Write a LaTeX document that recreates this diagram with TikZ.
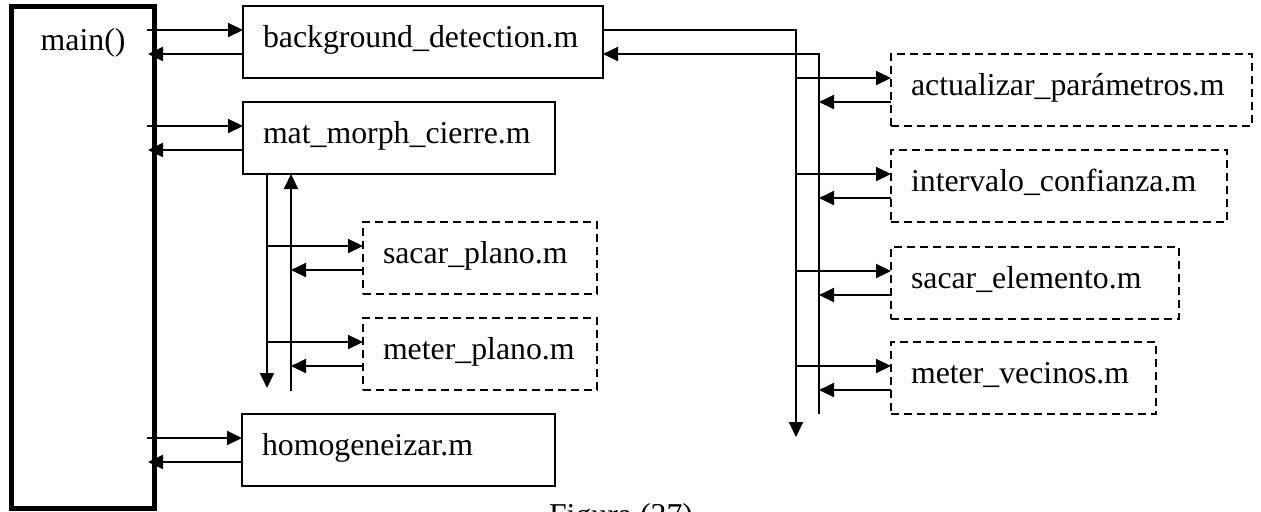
\documentclass[tikz,border=0pt]{standalone}
\usepackage{fontspec}
\setmainfont{Liberation Serif}
\usetikzlibrary{arrows.meta, calc}

\begin{document}
\begin{tikzpicture}[x=0.5pt, y=-0.5pt, line width=1pt,
        >={Triangle[length=7.5pt, width=7pt]},
        font=\fontsize{15.9pt}{19pt}\selectfont,
        modulo/.style={draw, rectangle, anchor=north west, minimum height=36pt,
            inner xsep=10pt, inner ysep=0pt, outer sep=0pt,
            text height=11pt, text depth=6pt, align=left},
        auxiliar/.style={modulo, dash pattern=on 4pt off 2.5pt}]
        \useasboundingbox (0,0) rectangle (1261,511);

        % Draw the blocks
        \node (main)    [draw, rectangle, anchor=north west, line width=2.5pt, outer sep=0pt,
                         minimum width=71.5pt, minimum height=251pt] at (11,6) {};
        \node (maintxt) [anchor=base west] at (33,50) {main()};
        \node (bg)      [modulo, text width=160pt]   at (243,6)   {background\_detection.m};
        \node (morph)   [modulo, text width=136pt]   at (243,102) {mat\_morph\_cierre.m};
        \node (homog)   [modulo, text width=136.5pt] at (242,414) {homogeneizar.m};
        \node (sacarp)  [auxiliar, text width=97pt]  at (363,222) {sacar\_plano.m};
        \node (meterp)  [auxiliar, text width=97pt]  at (363,318) {meter\_plano.m};
        \node (actual)  [auxiliar, text width=160.5pt] at (891,54)  {actualizar\_parámetros.m};
        \node (interv)  [auxiliar, text width=148pt] at (891,150) {intervalo\_confianza.m};
        \node (sacare)  [auxiliar, text width=124pt] at (891,247) {sacar\_elemento.m};
        \node (meterv)  [auxiliar, text width=112.5pt] at (891,342) {meter\_vecinos.m};
        \node (pie)     [anchor=base] at (621,525) {Figura (27)};

        % Ends of the call lines
        \coordinate (mainout) at ([xshift=-3.5pt]main.east);
        \coordinate (mainin)  at ([xshift=-3pt]main.east);
        \coordinate (bajada)  at (796,437);
        \coordinate (subida)  at (819,414);
        \coordinate (mbajada) at (267,388);
        \coordinate (msubida) at (291,391);

        % Calls from main()
        \draw [->] ($(bg.west -| mainout)+(0,-12)$) -- ($(bg.west)+(0,-12)$);
        \draw [->] ($(bg.west)+(0,12)$) -- ($(bg.west -| mainin)+(0,12)$);
        \draw [->] ($(morph.west -| mainout)+(0,-12)$) -- ($(morph.west)+(0,-12)$);
        \draw [->] ($(morph.west)+(0,12)$) -- ($(morph.west -| mainin)+(0,12)$);
        \draw [->] ($(homog.west -| mainout)+(0,-12)$) -- ($(homog.west)+(0,-12)$);
        \draw [->] ($(homog.west)+(0,12)$) -- ($(homog.west -| mainin)+(0,12)$);

        % Calls from mat_morph_cierre.m
        \draw [->] (morph.south -| mbajada) -- (mbajada);
        \draw [->] (msubida) -- (msubida |- morph.south);
        \draw [->] ($(sacarp.west -| mbajada)+(0,-12)$) -- ($(sacarp.west)+(0,-12)$);
        \draw [->] ($(sacarp.west)+(0,12)$) -- ($(sacarp.west -| msubida)+(0,12)$);
        \draw [->] ($(meterp.west -| mbajada)+(0,-12)$) -- ($(meterp.west)+(0,-12)$);
        \draw [->] ($(meterp.west)+(0,12)$) -- ($(meterp.west -| msubida)+(0,12)$);

        % Calls from background_detection.m
        \draw [->] ($(bg.east)+(0,-12)$) -| (bajada);
        \draw [->] (subida) |- ($(bg.east)+(0,12)$);
        \draw [->] ($(actual.west -| bajada)+(0,-12)$) -- ($(actual.west)+(0,-12)$);
        \draw [->] ($(actual.west)+(0,12)$) -- ($(actual.west -| subida)+(0,12)$);
        \draw [->] ($(interv.west -| bajada)+(0,-12)$) -- ($(interv.west)+(0,-12)$);
        \draw [->] ($(interv.west)+(0,12)$) -- ($(interv.west -| subida)+(0,12)$);
        \draw [->] ($(sacare.west -| bajada)+(0,-12)$) -- ($(sacare.west)+(0,-12)$);
        \draw [->] ($(sacare.west)+(0,12)$) -- ($(sacare.west -| subida)+(0,12)$);
        \draw [->] ($(meterv.west -| bajada)+(0,-12)$) -- ($(meterv.west)+(0,-12)$);
        \draw [->] ($(meterv.west)+(0,12)$) -- ($(meterv.west -| subida)+(0,12)$);
\end{tikzpicture}
\end{document}
